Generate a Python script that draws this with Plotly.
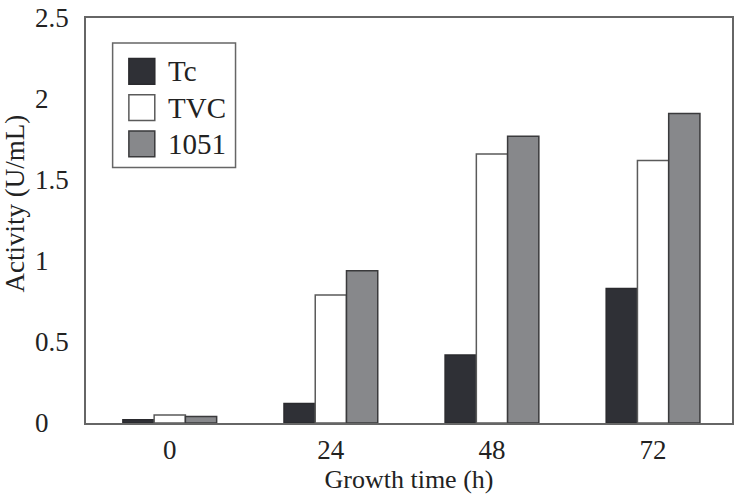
import plotly.graph_objects as go

categories = ["0", "24", "48", "72"]
series_names = ["Tc", "TVC", "1051"]
tc_values = [0.02, 0.12, 0.42, 0.83]
tvc_values = [0.05, 0.79, 1.66, 1.62]
s1051_values = [0.04, 0.94, 1.77, 1.91]
y_tick_vals = [0, 0.5, 1, 1.5, 2, 2.5]
y_tick_labels = ["0", "0.5", "1", "1.5", "2", "2.5"]

series_values = [tc_values, tvc_values, s1051_values]
fill_colors = ["#2f3036", "#ffffff", "#87888b"]
line_colors = ["#2a2a2e", "#5a5a5a", "#3a3a3c"]

FONT = "Liberation Serif, Times New Roman, serif"
TXT = "#222222"

fig = go.Figure()
for name, vals, fc, lc in zip(series_names, series_values, fill_colors, line_colors):
    fig.add_trace(go.Bar(
        x=categories, y=vals, name=name,
        marker=dict(color=fc, line=dict(color=lc, width=1.5)),
        showlegend=False,
    ))

# pad integer labels with no-break spaces so the labels look left-aligned
def pad(lbl):
    return lbl if "." in lbl else lbl + "\u00a0" * 3

fig.update_layout(
    width=737, height=496,
    margin=dict(l=86, r=3, t=14, b=73),
    paper_bgcolor="white", plot_bgcolor="white",
    barmode="group", bargap=0.418, bargroupgap=0,
    font=dict(family=FONT, size=27, color=TXT),
    xaxis=dict(
        type="category", range=[-0.52, 3.49],
        showline=True, linecolor="#666666", linewidth=1.5, mirror=True,
        showgrid=False, ticks="", ticklabelstandoff=2,
        tickfont=dict(family=FONT, size=27, color=TXT),
        title=dict(text="Growth time (h)", font=dict(family=FONT, size=26, color=TXT), standoff=6),
    ),
    yaxis=dict(
        range=[0, 2.5],
        showline=True, linecolor="#666666", linewidth=1.5, mirror=True,
        showgrid=False, zeroline=False, ticks="",
        tickvals=y_tick_vals, ticktext=[pad(t) for t in y_tick_labels],
        ticklabelstandoff=10, ticklabeloverflow="allow",
        tickfont=dict(family=FONT, size=27, color=TXT),
        title=dict(text="\u200b" + "\u00a0" * 5 + "Activity (U/mL)",
                   font=dict(family=FONT, size=27, color=TXT), standoff=4),
    ),
)

# manual legend with large swatches (paper coordinates)
plot_w, plot_h = 648.0, 409.0
def px(dx):
    return dx / plot_w
def py(dy):
    return dy / plot_h

box_x0, box_x1 = px(26.7), px(150)
box_y1, box_y0 = 1 - py(25.3), 1 - py(151)
fig.add_shape(type="rect", xref="paper", yref="paper",
              x0=box_x0, x1=box_x1, y0=box_y0, y1=box_y1,
              line=dict(color="#666666", width=1.5), fillcolor="white", layer="above")
sw_x0, sw_x1 = px(43), px(69)
first_top = 41.0
pitch = 36.5
sw = 26.0
for i, (name, fc, lc) in enumerate(zip(series_names, fill_colors, line_colors)):
    top = first_top + i * pitch
    fig.add_shape(type="rect", xref="paper", yref="paper",
                  x0=sw_x0, x1=sw_x1, y0=1 - py(top + sw), y1=1 - py(top),
                  line=dict(color=lc, width=1.5), fillcolor=fc, layer="above")
    fig.add_annotation(xref="paper", yref="paper", x=px(80), y=1 - py(top + sw / 2),
                       xanchor="left", yanchor="middle", showarrow=False,
                       text=name, font=dict(family=FONT, size=29, color=TXT))

fig.write_html("out.html")
